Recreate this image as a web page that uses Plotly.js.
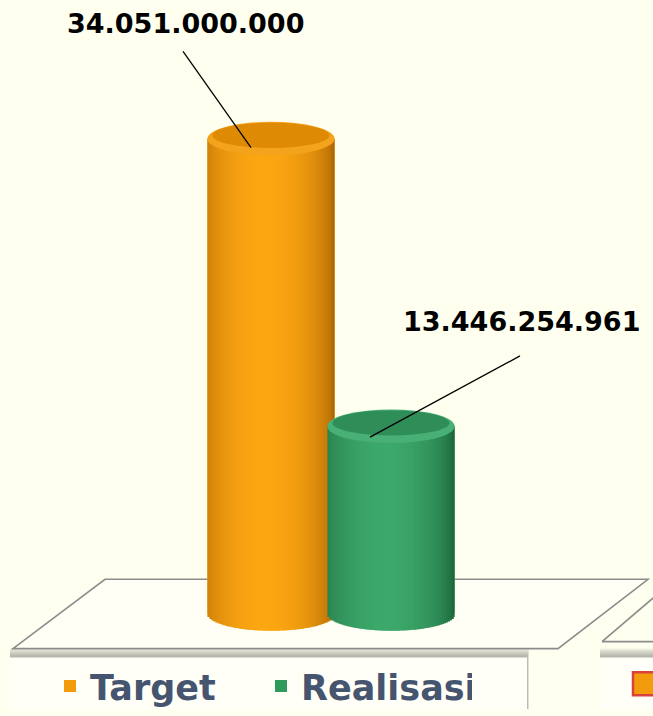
<!DOCTYPE html>
<html><head><meta charset="utf-8">
<script src="https://cdn.plot.ly/plotly-3.0.1.min.js"></script>
<style>html,body{margin:0;padding:0;background:#fffff0;}#chart{width:653px;height:716px;}</style>
</head><body><div id="chart"></div>
<script>
// ---- data ----
const categories = ["Target", "Realisasi"];
const values = [34051000000, 13446254961];
const labels = ["34.051.000.000", "13.446.254.961"];
const seriesColors = ["#F39C0B", "#2E9A5C"];

// ---- layout helpers (pixel geometry of the page) ----
const W = 653, H = 716, ML = 31, PW = 612;
const px = x => (x - ML) / PW;
const py = y => 1 - y / H;
const yScale = values[0] / 480;          // value units per pixel
const yMin = -96 * yScale, yMax = 620 * yScale;
const barW = 1.06, rx = barW / 2, ry = 17 * yScale;
const xPix = 120;                          // pixels per category step

const shades = [
  {dark:[160,92,0], light:[252,166,18], rim:"#F3A31C", top:"#DE8A05"},
  {dark:[22,90,50], light:[60,168,106], rim:"#48B074", top:"#2F8D58"}
];
function mix(a,b,f){return "rgb("+a.map((v,i)=>Math.round(v+(b[i]-v)*f)).join(",")+")";}

const shapes = [];
// floor
shapes.push({type:"path", xref:"paper", yref:"paper", layer:"below",
  path:`M${px(13)},${py(655)} L${px(105)},${py(585)} L${px(648)},${py(585)} L${px(558)},${py(655)} Z`,
  fillcolor:"#fffff6", line:{color:"#8c8c8c", width:1.6}});
shapes.push({type:"path", xref:"paper", yref:"paper", layer:"below",
  path:`M${px(602)},${py(648)} L${px(660)},${py(598)} M${px(602)},${py(648)} L${px(660)},${py(648)}`,
  line:{color:"#8c8c8c", width:1.6}});
// legend boxes with shadow
[[10,527],[600,660]].forEach(([a,b])=>{
  for(let k=0;k<6;k++){
    shapes.push({type:"rect", xref:"paper", yref:"paper", layer:"below",
      x0:px(a), x1:px(b+2-k*0.3), y0:py(716), y1:py(655+k*1.4),
      fillcolor:"rgba(120,120,120,0.12)", line:{width:0}});
  }
  shapes.push({type:"rect", xref:"paper", yref:"paper", layer:"below",
    x0:px(a), x1:px(b), y0:py(716), y1:py(664), fillcolor:"#fffff7", line:{width:0}});
});
// partial marker of neighbouring legend
shapes.push({type:"rect", xref:"paper", yref:"paper", x0:px(633), x1:px(655), y0:py(702), y1:py(679),
  fillcolor:"#F39C0B", line:{color:"#D9423A", width:2.5}});

// cylinder shading drawn over each bar, derived from its value
const N = 64;
values.forEach((v, i) => {
  const s = shades[i];
  for (let k = 0; k < N; k++) {
    const t = -1 + (2 * k + 1) / N;
    const tt = (t + 0.1) / 1.1;
    let f = Math.pow(Math.max(0, Math.cos(Math.min(1, Math.abs(tt)) * Math.PI / 2)), 0.5);
    const x0 = i - rx + (k / N) * barW, x1 = Math.min(i + rx, i - rx + ((k + 1.6) / N) * barW);
    shapes.push({type:"rect", xref:"x", yref:"y", layer:"above",
      x0:x0, x1:x1, y0:-ry * Math.sqrt(Math.max(0, 1 - t * t)), y1:v,
      fillcolor:mix(s.dark, s.light, f), line:{width:0}});
  }
  shapes.push({type:"circle", xref:"x", yref:"y", layer:"above",
    x0:i - rx, x1:i + rx, y0:v - ry, y1:v + ry, fillcolor:s.rim, line:{width:0}});
  shapes.push({type:"circle", xref:"x", yref:"y", layer:"above",
    x0:i - rx * 0.92, x1:i + rx * 0.92, y0:v - ry * 0.55, y1:v + ry * 0.94, fillcolor:s.top, line:{width:0}});
});

// leader lines: from label (pixel offset) to a point on each cylinder top
const leaders = [
  {tipDx:-20, tipDy:9, fromDx:-88, fromDy:-88},
  {tipDx:-21, tipDy:11, fromDx:129, fromDy:-71}
];
values.forEach((v, i) => {
  const L = leaders[i];
  shapes.push({type:"line", xref:"x", yref:"y", layer:"above",
    x0:i + L.tipDx / xPix, y0:v - L.tipDy * yScale,
    x1:i + L.fromDx / xPix, y1:v - L.fromDy * yScale,
    line:{color:"#000", width:1.3}});
});

const traces = categories.map((c, i) => ({
  type:"bar", name:c, x:[c], y:[values[i]], width:barW,
  marker:{color:seriesColors[i], line:{width:0}}, hoverinfo:"none"
}));

const annFont = {family:"DejaVu Sans", size:27, color:"#000", weight:"bold"};
const annotations = [
  {x:0 - 86 / xPix, y:values[0] + 116 * yScale, xref:"x", yref:"y", text:labels[0], font:annFont, showarrow:false},
  {x:1 + 130 / xPix, y:values[1] + 106 * yScale, xref:"x", yref:"y", text:labels[1], font:annFont, showarrow:false}
];

const layout = {
  width:W, height:H, margin:{l:ML, r:W - ML - PW, t:0, b:0},
  paper_bgcolor:"#fffff0", plot_bgcolor:"rgba(0,0,0,0)",
  barmode:"overlay", showlegend:true,
  xaxis:{type:"category", range:[-2, 3.1], visible:false, fixedrange:true},
  yaxis:{range:[yMin, yMax], visible:false, fixedrange:true},
  legend:{orientation:"h", x:px(50), xanchor:"left", y:py(693), yanchor:"middle",
    bgcolor:"rgba(0,0,0,0)", entrywidth:166,
    font:{family:"DejaVu Sans", size:35, color:"#46556F", weight:"bold"}},
  shapes:shapes, annotations:annotations
};
Plotly.newPlot("chart", traces, layout, {displayModeBar:false, staticPlot:true});
</script></body></html>
